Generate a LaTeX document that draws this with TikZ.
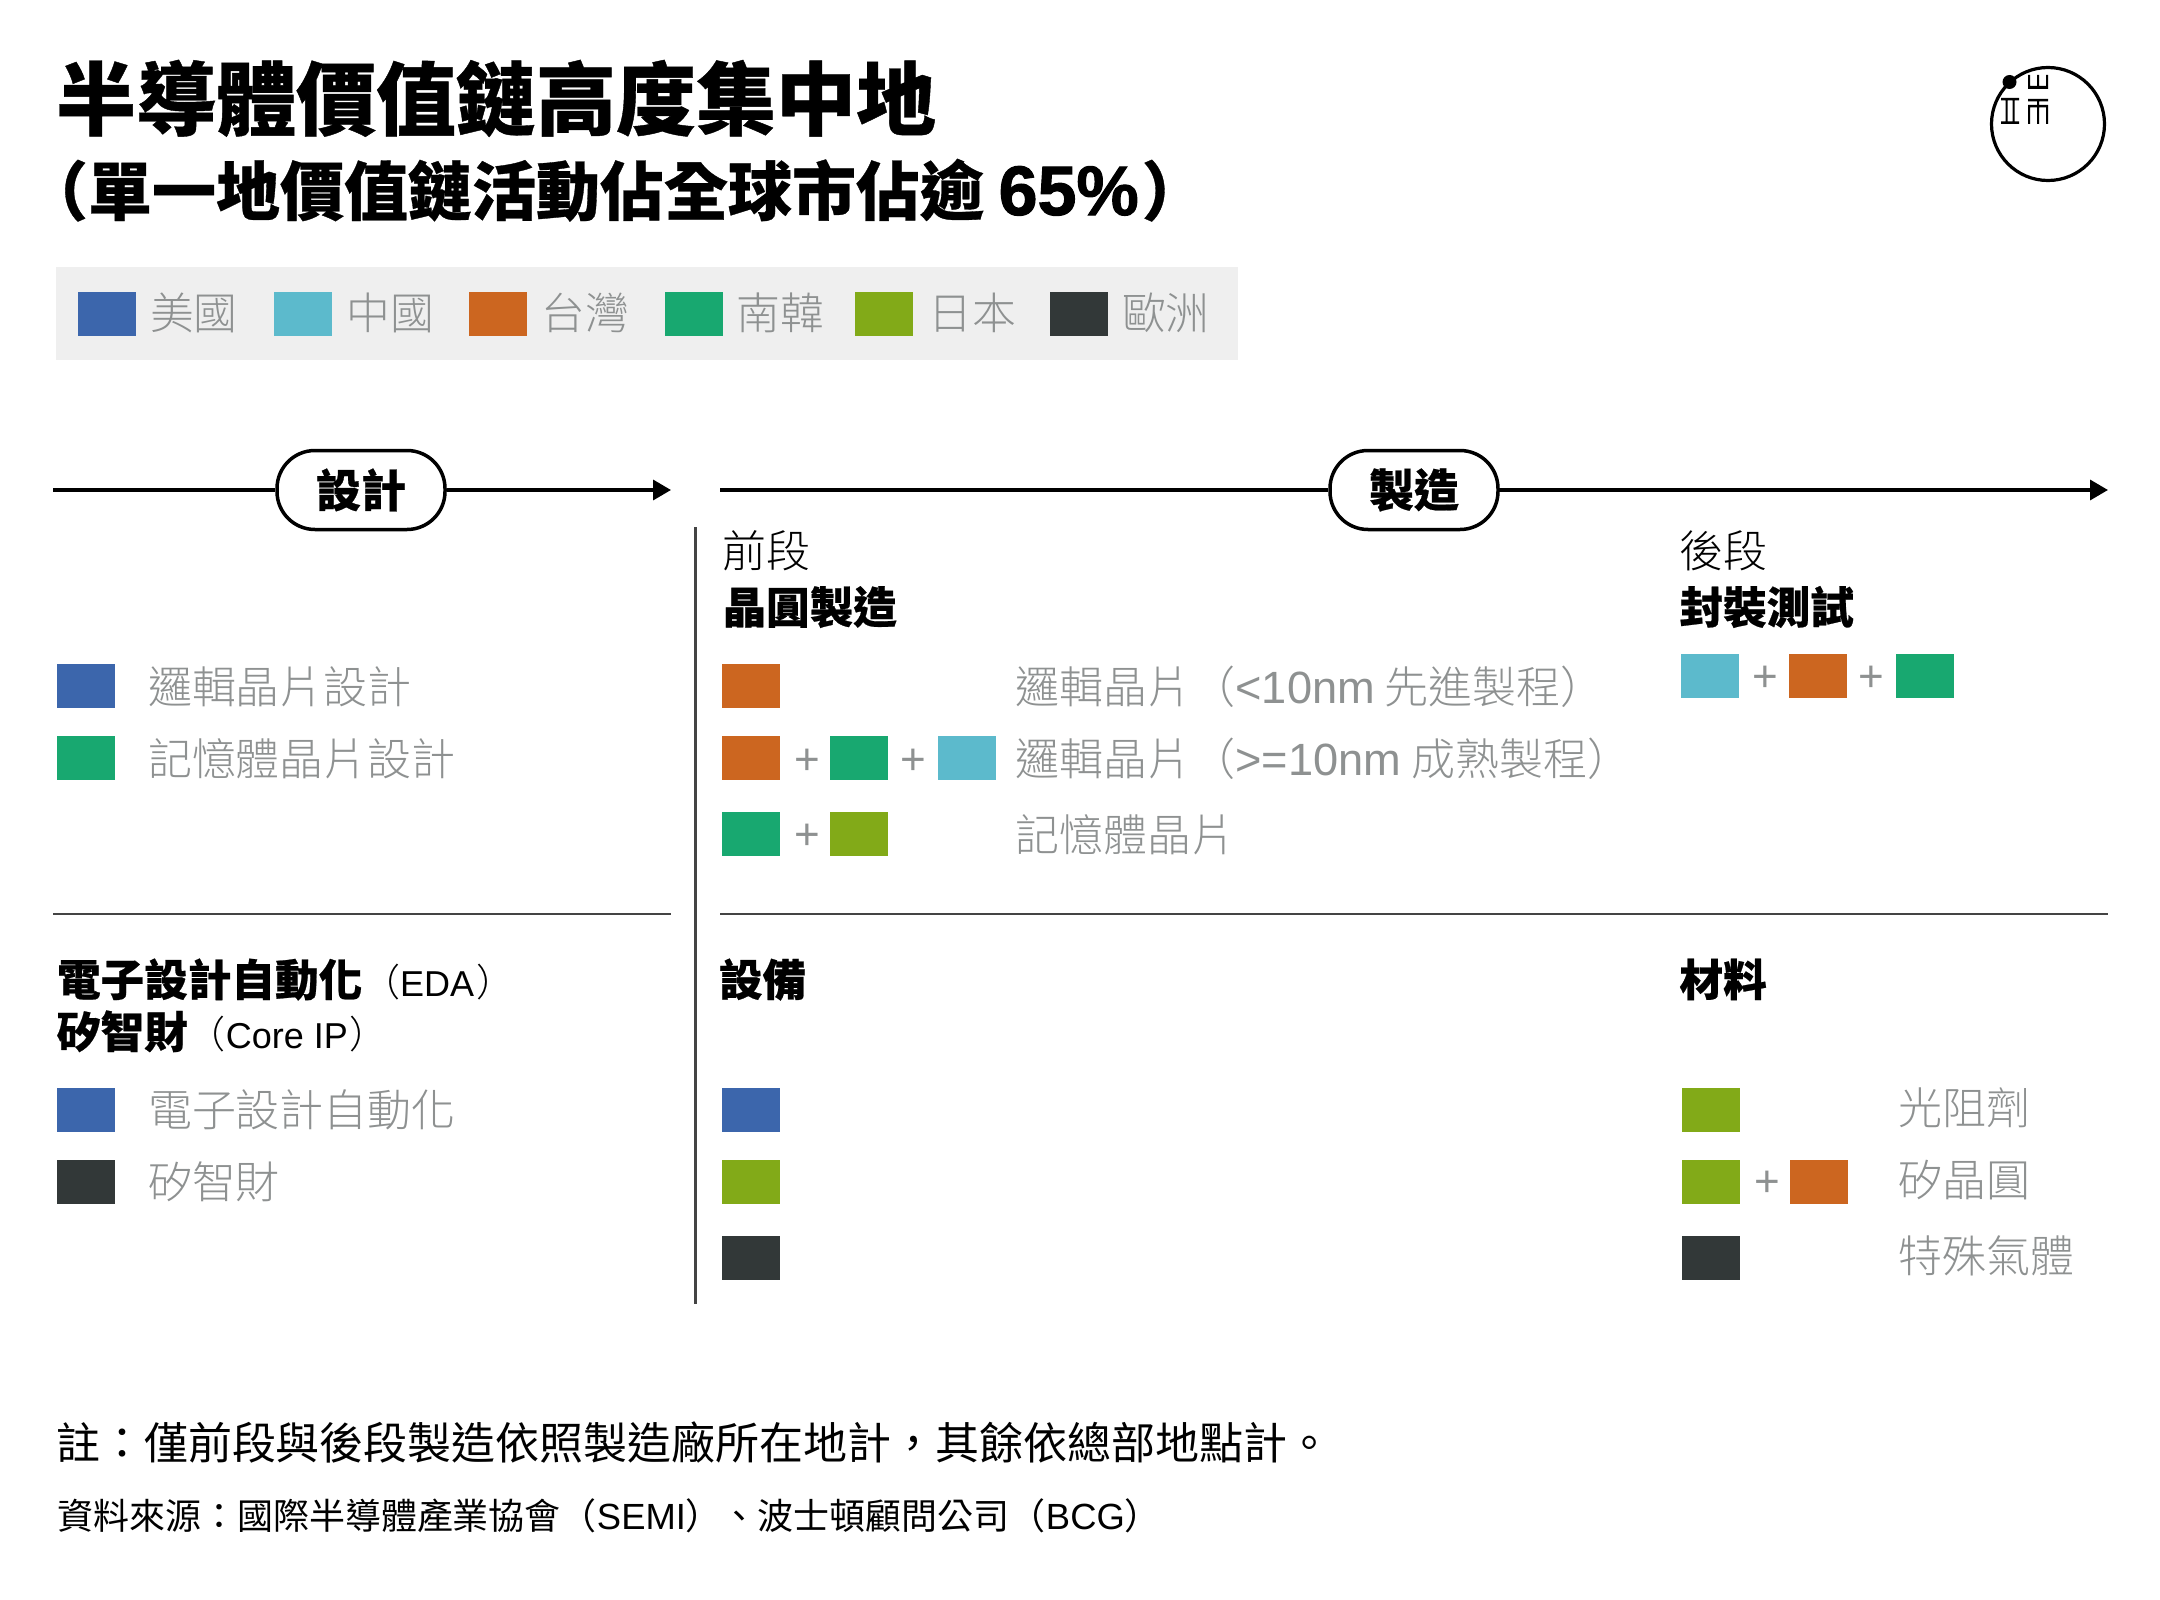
\documentclass[tikz,border=0pt]{standalone}
\usepackage{fontspec}
\usetikzlibrary{arrows.meta}
\setmainfont{Liberation Sans}
\newfontfamily\cjkblack[FakeBold=0.5]{Noto Sans CJK TC Black}
\newfontfamily\cjkbold{Noto Sans CJK TC Bold}
\newfontfamily\cjklight{Noto Sans CJK TC Light}
\newfontfamily\cjkreg{Noto Sans CJK TC}
\newfontfamily\latbold[FakeBold=1.5]{Liberation Sans Bold}
\newfontfamily\latreg{Liberation Sans}
\definecolor{cUS}{HTML}{3C66AC}
\definecolor{cCN}{HTML}{5CBACC}
\definecolor{cTW}{HTML}{CC6620}
\definecolor{cKR}{HTML}{18A870}
\definecolor{cJP}{HTML}{82AA18}
\definecolor{cEU}{HTML}{323838}
\definecolor{cGrey}{HTML}{8E9191}
\definecolor{cRule}{HTML}{444444}
\definecolor{cBand}{HTML}{EFEFEF}
\newcommand{\lat}[1]{{\latreg\fontsize{22.6pt}{25pt}\selectfont #1}}
\newcommand{\latsm}[1]{{\latreg\fontsize{18pt}{22pt}\selectfont #1}}
\tikzset{
  lbl/.style={inner sep=0pt,outer sep=0pt,anchor=base west,text=cGrey,font=\cjklight\fontsize{22pt}{25pt}\selectfont},
  lbllegend/.style={lbl,font=\cjklight\fontsize{21.9pt}{25pt}\selectfont},
  lblhead/.style={lbl,text=black,font=\cjkblack\fontsize{21.8pt}{25pt}\selectfont},
  lblthin/.style={lbl,text=black,font=\cjklight\fontsize{22pt}{25pt}\selectfont},
  lblnote/.style={lbl,text=black,font=\cjkreg\fontsize{22pt}{25pt}\selectfont},
  lblsrc/.style={lbl,text=black,font=\cjkreg\fontsize{18pt}{22pt}\selectfont},
  plussign/.style={inner sep=0pt,outer sep=0pt,anchor=center,text=cGrey,font=\latreg\fontsize{22pt}{24pt}\selectfont},
  swatch/.style={rectangle,inner sep=0pt,outer sep=0pt,minimum width=29pt,minimum height=22pt,fill=#1},
  pill/.style={draw=black,line width=1.75pt,fill=white,rounded corners=19pt,inner sep=0pt,minimum width=84pt,minimum height=39.5pt,font=\cjkblack\fontsize{22.5pt}{26pt}\selectfont},
  axisline/.style={line width=1.75pt,draw=black},
  axisarrow/.style={axisline,-{Triangle[length=9pt,width=10pt]}},
  rulehair/.style={line width=1.1pt,draw=cRule},
  logobar/.style={fill=black,draw=none}
}
\begin{document}
\begin{tikzpicture}[x=0.5pt,y=-0.5pt]
\useasboundingbox (0,0) rectangle (2160,1600);
\fill[white] (0,0) rectangle (2160,1600);
% title
\node[lbl,text=black,font=\cjkblack\fontsize{40pt}{44pt}\selectfont] (title) at (56,129) {半導體價值鏈高度集中地};
\node[lbl,text=black,font=\cjkblack\fontsize{32pt}{36pt}\selectfont] (subtitle) at (24,215) {（單一地價值鏈活動佔全球市佔逾 {\latbold\fontsize{35pt}{36pt}\selectfont 65\%}\hspace{1.5pt}）};
% logo
\node[draw=black,line width=1.6pt,circle,inner sep=0pt,minimum size=56.5pt] (logoring) at (2048,124) {};
\node[fill=black,circle,inner sep=0pt,minimum size=7pt] (logodot) at (2009.5,82) {};
\fill[logobar] (2001,98) rectangle (2019,100.5) (2001,121.5) rectangle (2019,124) (2005.5,98) rectangle (2007.5,124) (2012.5,98) rectangle (2014.5,124);
\fill[logobar] (2028,75) rectangle (2030,89) (2037,75) rectangle (2039,89) (2046,75) rectangle (2048,89) (2028,86) rectangle (2048,89);
\fill[logobar] (2028,99) rectangle (2048,101.5) (2028,105) rectangle (2048,107.5) (2028,105) rectangle (2030,124) (2037,99) rectangle (2039,124) (2046,105) rectangle (2048,124);
% legend
\fill[cBand] (56,267) rectangle (1238,360);
\node[swatch=cUS] (lgUS) at (107,314) {};
\node[swatch=cCN] (lgCN) at (303,314) {};
\node[swatch=cTW] (lgTW) at (498,314) {};
\node[swatch=cKR] (lgKR) at (694,314) {};
\node[swatch=cJP] (lgJP) at (884,314) {};
\node[swatch=cEU] (lgEU) at (1079,314) {};
\node[lbllegend] (ltUS) at (150,329) {美國};
\node[lbllegend] (ltCN) at (346.5,329) {中國};
\node[lbllegend] (ltTW) at (541.5,329) {台灣};
\node[lbllegend] (ltKR) at (736.5,329) {南韓};
\node[lbllegend] (ltJP) at (928.5,329) {日本};
\node[lbllegend] (ltEU) at (1122,329) {歐洲};
% axes
\coordinate (d0) at (53,490);
\coordinate (d1) at (671,490);
\coordinate (m0) at (720,490);
\coordinate (m1) at (2108,490);
\node[pill] (design) at (361,490) {設計};
\node[pill] (make) at (1414,490) {製造};
\draw[axisline] (d0) -- (design);
\draw[axisarrow] (design) -- (d1);
\draw[axisline] (m0) -- (make);
\draw[axisarrow] (make) -- (m1);
% rules
\coordinate (v0) at (695.5,527);
\coordinate (v1) at (695.5,1304);
\coordinate (hl0) at (53,914);
\coordinate (hl1) at (671,914);
\coordinate (hr0) at (720,914);
\coordinate (hr1) at (2108,914);
\draw[rulehair] (v0) -- (v1);
\draw[rulehair] (hl0) -- (hl1);
\draw[rulehair] (hr0) -- (hr1);
% design column
\node[swatch=cUS] (s1) at (85.5,686) {};
\node[swatch=cKR] (s2) at (85.5,758) {};
\node[lbl] (t1) at (148,703) {邏輯晶片設計};
\node[lbl] (t2) at (148,775) {記憶體晶片設計};
% front-end
\node[lblthin] (qd) at (722.5,567.5) {前段};
\node[lblhead] (jy) at (722.5,623.5) {晶圓製造};
\node[swatch=cTW] (f1) at (751,686) {};
\node[swatch=cTW] (f2a) at (751,758) {};
\node[plussign] (p2a) at (807,762) {+};
\node[swatch=cKR] (f2b) at (859,758) {};
\node[plussign] (p2b) at (913,762) {+};
\node[swatch=cCN] (f2c) at (966.5,758) {};
\node[swatch=cKR] (f3a) at (751,834) {};
\node[plussign] (p3) at (807,837) {+};
\node[swatch=cJP] (f3b) at (859,834) {};
\node[lbl] (ft1) at (1015.5,703) {邏輯晶片（\lat{<10nm} 先進製程）};
\node[lbl] (ft2) at (1015.5,775) {邏輯晶片（\lat{>=10nm} 成熟製程）};
\node[lbl] (ft3) at (1015.5,851) {記憶體晶片};
% back-end
\node[lblthin] (hd) at (1679.5,567.5) {後段};
\node[lblhead] (fz) at (1679.5,623.5) {封裝測試};
\node[swatch=cCN] (b1) at (1709.5,676) {};
\node[plussign] (bp1) at (1765,679) {+};
\node[swatch=cTW] (b2) at (1817.5,676) {};
\node[plussign] (bp2) at (1871,679) {+};
\node[swatch=cKR] (b3) at (1925,676) {};
% lower left
\node[lblhead] (eda) at (57,996) {電子設計自動化{\cjklight\fontsize{19pt}{22pt}\selectfont （\latsm{EDA}\hspace{1pt}）}};
\node[lblhead] (ip) at (57,1048) {矽智財{\cjklight\fontsize{19pt}{22pt}\selectfont （\latsm{Core IP\hspace{1pt}}）}};
\node[swatch=cUS] (e1) at (85.5,1109.5) {};
\node[swatch=cEU] (e2) at (85.5,1181.5) {};
\node[lbl] (et1) at (148,1126) {電子設計自動化};
\node[lbl] (et2) at (148,1198) {矽智財};
% equipment
\node[lblhead] (sb) at (719,996) {設備};
\node[swatch=cUS] (q1) at (751,1109.5) {};
\node[swatch=cJP] (q2) at (751,1181.5) {};
\node[swatch=cEU] (q3) at (751,1257.5) {};
% materials
\node[lblhead] (cl) at (1679.5,996) {材料};
\node[swatch=cJP] (m1s) at (1710.5,1109.5) {};
\node[swatch=cJP] (m2a) at (1710.5,1181.5) {};
\node[plussign] (mp) at (1767,1184) {+};
\node[swatch=cTW] (m2b) at (1819,1181.5) {};
\node[swatch=cEU] (m3s) at (1710.5,1257.5) {};
\node[lbl] (mt1) at (1898,1124) {光阻劑};
\node[lbl] (mt2) at (1898,1196) {矽晶圓};
\node[lbl] (mt3) at (1898,1272) {特殊氣體};
% notes
\node[lblnote] (note) at (56,1459.5) {註：僅前段與後段製造依照製造廠所在地計，其餘依總部地點計。};
\node[lblsrc] (src) at (57,1529.5) {資料來源：國際半導體產業協會（\lat{\fontsize{18.2pt}{22pt}\selectfont SEMI}）、波士頓顧問公司（\lat{\fontsize{18.2pt}{22pt}\selectfont BCG}）};
\end{tikzpicture}
\end{document}
